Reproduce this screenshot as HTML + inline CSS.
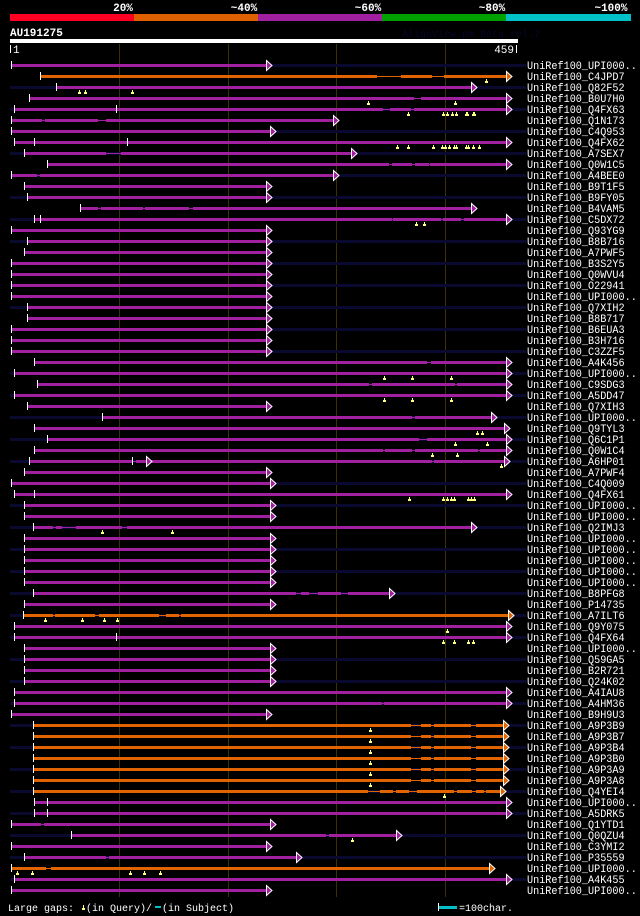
<!DOCTYPE html>
<html><head><meta charset="utf-8"><style>
html,body{margin:0;padding:0;background:#000;}
body{width:640px;height:916px;overflow:hidden;}
svg{display:block;}
text{font-family:"Liberation Mono",monospace;}
</style></head><body>
<svg id="chart" width="640" height="916" viewBox="0 0 640 916" xmlns="http://www.w3.org/2000/svg">
<rect x="0" y="0" width="640" height="916" fill="#000"/>
<g>
<rect x="10" y="14" width="124" height="7" fill="#ff0022"/>
<rect x="134" y="14" width="124" height="7" fill="#e06000"/>
<rect x="258" y="14" width="124" height="7" fill="#a020a0"/>
<rect x="382" y="14" width="124" height="7" fill="#00a000"/>
<rect x="506" y="14" width="125" height="7" fill="#00c0c8"/>
<g fill="#fff" font-size="11" font-weight="bold" text-anchor="middle">
<text x="123" y="11">20%</text>
<text x="244" y="11">~40%</text>
<text x="368" y="11">~60%</text>
<text x="492" y="11">~80%</text>
<text x="611" y="11">~100%</text>
</g></g>
<text x="10" y="36" fill="#fff" font-size="11" font-weight="bold">AU191275</text>
<text x="402" y="37" fill="#07072a" font-size="10">AlignView.pm Beta rel.7</text>
<rect x="10" y="39" width="508" height="4" fill="#fff"/>
<rect x="10" y="45" width="1" height="8" fill="#fff"/>
<text x="13" y="53" fill="#fff" font-size="11">1</text>
<text x="514" y="53" fill="#fff" font-size="11" text-anchor="end">459</text>
<rect x="516" y="45" width="1" height="8" fill="#fff"/>
<g id="grid"></g>
<g id="rows"></g>
<g font-size="10" fill="#fff">
<text x="8" y="911">Large gaps:</text>
<path d="M82 910h3v-2h-1v-3h-1v3h-1z" fill="#ffff80"/>
<text x="86" y="911">(in Query)/</text>
<rect x="155" y="906" width="6" height="2" fill="#00c0c8"/>
<text x="162" y="911">(in Subject)</text>
<rect x="438" y="903" width="1" height="8" fill="#fff"/>
<rect x="439" y="906" width="18" height="3" fill="#00c0c8"/>
<text x="459" y="911">=100char.</text>
</g>
</svg>
<script>
const names=["UPI000..","C4JPD7","Q82F52","B0U7H0","Q4FX63","Q1N173","C4Q953","Q4FX62","A7SEX7","Q0W1C5","A4BEE0","B9T1F5","B9FY05","B4VAM5","C5DX72","Q93YG9","B8B716","A7PWF5","B3S2Y5","Q0WVU4","O22941","UPI000..","Q7XIH2","B8B717","B6EUA3","B3H716","C3ZZF5","A4K456","UPI000..","C9SDG3","A5DD47","Q7XIH3","UPI000..","Q9TYL3","Q6C1P1","Q0W1C4","A6HP01","A7PWF4","C4Q009","Q4FX61","UPI000..","UPI000..","Q2IMJ3","UPI000..","UPI000..","UPI000..","UPI000..","UPI000..","B8PFG8","P14735","A7ILT6","Q9Y075","Q4FX64","UPI000..","Q59GA5","B2R721","Q24K02","A4IAU8","A4HM36","B9H9U3","A9P3B9","A9P3B7","A9P3B4","A9P3B0","A9P3A9","A9P3A8","Q4YEI4","UPI000..","A5DRK5","Q1YTD1","Q0QZU4","C3YMI2","P35559","UPI000..","A4K455","UPI000.."];
const qStart=[1,27,42,17,3,1,1,3,13,34,1,13,15,64,22,1,15,13,1,1,1,1,15,15,1,1,1,22,3,25,3,15,84,22,34,22,17,13,1,3,13,13,21,13,13,13,13,13,21,13,12,3,3,13,13,13,13,3,3,1,21,21,21,21,21,21,21,22,22,1,56,1,13,1,3,1];
const qEnd=[236,457,425,457,457,298,240,457,314,457,298,236,236,425,457,236,236,236,236,236,236,236,236,236,236,236,236,457,457,457,457,236,443,455,457,457,455,236,240,457,240,240,425,240,240,240,240,240,349,240,459,457,457,240,240,240,240,457,457,236,454,454,454,454,454,454,451,457,457,240,356,236,264,441,457,236];
const hitColor=["p","o","p","p","p","p","p","p","p","p","p","p","p","p","p","p","p","p","p","p","p","p","p","p","p","p","p","p","p","p","p","p","p","p","p","p","p","p","p","p","p","p","p","p","p","p","p","p","p","p","o","p","p","p","p","p","p","p","p","p","o","o","o","o","o","o","o","p","p","p","p","p","p","o","p","p"];
const subjGaps={1:[[337,359],[388,399]],3:[[371,378]],4:[[343,349],[369,371]],5:[[29,32],[81,88]],8:[[88,102]],9:[[348,351],[370,372],[385,386]],10:[[25,27]],13:[[81,83],[122,124],[164,168]],14:[[351,352],[396,398],[415,417]],27:[[383,387]],29:[[330,333],[409,411]],32:[[370,372]],34:[[376,383]],35:[[343,345],[370,372],[430,432]],36:[[113,116],[388,390]],42:[[39,42],[48,60],[103,107]],48:[[263,267],[275,283],[304,311]],50:[[39,41],[78,82],[137,143],[155,157]],58:[[342,344]],60:[[369,378],[387,390],[424,428]],61:[[369,378],[387,390],[424,428]],62:[[369,378],[387,390],[424,428]],63:[[369,378],[387,390],[424,428]],64:[[369,378],[387,390],[424,428]],65:[[369,378],[387,390],[424,428]],66:[[329,340],[352,355],[367,374],[408,411],[425,428],[436,438]],69:[[28,31]],70:[[290,293]],72:[[88,91]],73:[[33,37]]};
const queryGaps={1:[438],2:[63,69,112],3:[329,409],4:[366,398,402,406,410,419,420,426,427],7:[356,366,389,397,400,404,408,410,419,421,426,431],14:[373,381],28:[344,370,405],30:[344,370,405],33:[429,434],34:[409,439],35:[388,411],36:[451],39:[367,398,402,405,408,421,424,427],42:[84,149],50:[32,66,86,98],51:[402],52:[398,408,421,426],60:[331],61:[331],62:[331],63:[331],64:[331],65:[331],66:[399],70:[314],73:[6,20,110,123,138]};
const extraTicks={4:[97],7:[22,107],14:[27],36:[112],39:[22],52:[97],67:[34],68:[34]};
const midArrows={36:[126]};
const gridTicks=[100,200,300,400];

const NS="http://www.w3.org/2000/svg";
const x0=10.3, scale=1.087;
function xs(r){return Math.round(x0+r*scale);}
function rowY(i){return 65+i*11;}
const COL={p:"#a020a0",o:"#e26400"};
function mk(tag,attrs,parent){const e=document.createElementNS(NS,tag);for(const k in attrs)e.setAttribute(k,attrs[k]);parent.appendChild(e);return e;}
const grid=document.getElementById('grid');
gridTicks.forEach(t=>{
  const l=mk('rect',{x:xs(t),y:44,width:1,height:853,fill:'#3a3300'},grid);
  
  
});
const rows=document.getElementById('rows');
names.forEach((n,i)=>{
  const y=rowY(i);
  const g=mk('g',{},rows);
  
  
  if(i%2===0){const s=mk('rect',{x:10,y:y-1,width:516,height:3,fill:'#0a0a30'},g);
    
    }
  const c=COL[hitColor[i]];
  const a=xs(qStart[i]), b=xs(qEnd[i]);
  const gaps=(subjGaps[i]||[]).slice().sort((p,q)=>p[0]-q[0]);
  let cur=a;
  const segs=[];
  gaps.forEach(gp=>{segs.push([cur,xs(gp[0])]);cur=xs(gp[1]);});
  segs.push([cur,b]);
  mk('rect',{x:a,y:y,width:b-a,height:1,fill:c},g);
  segs.forEach(s=>{const r=mk('rect',{x:s[0],y:y-1,width:Math.max(0,s[1]-s[0]),height:3,fill:c},g);
    
    });
  const tick=mk('rect',{x:a,y:y-4,width:1,height:8,fill:'#fff'},g);
  
  
  (extraTicks[i]||[]).forEach(t=>{const e=mk('rect',{x:xs(t),y:y-4,width:1,height:8,fill:'#fff'},g);
    
    });
  const arrows=(midArrows[i]||[]).map(xs).concat([b]);
  arrows.forEach(ax=>{const p=mk('polygon',{points:`${ax-0.5},${y-4.5} ${ax+5},${y+0.5} ${ax-0.5},${y+5.5}`,fill:c,stroke:'#fff','stroke-width':1},g);
    
    });
  (queryGaps[i]||[]).forEach(q=>{const qx=xs(q);
    const m=mk('path',{d:`M${qx-1} ${y+7}h3v-2h-1v-2h-1v2h-1z`,fill:'#ffff80'},g);
    
    });
  const label='UniRef100_'+n;
  const t=mk('text',{x:527,y:y+4,fill:'#fff','font-size':11,textLength:(label.length*6.1).toFixed(1),lengthAdjust:'spacingAndGlyphs'},g);
  t.textContent=label;
  
  
});
</script>
</body></html>
